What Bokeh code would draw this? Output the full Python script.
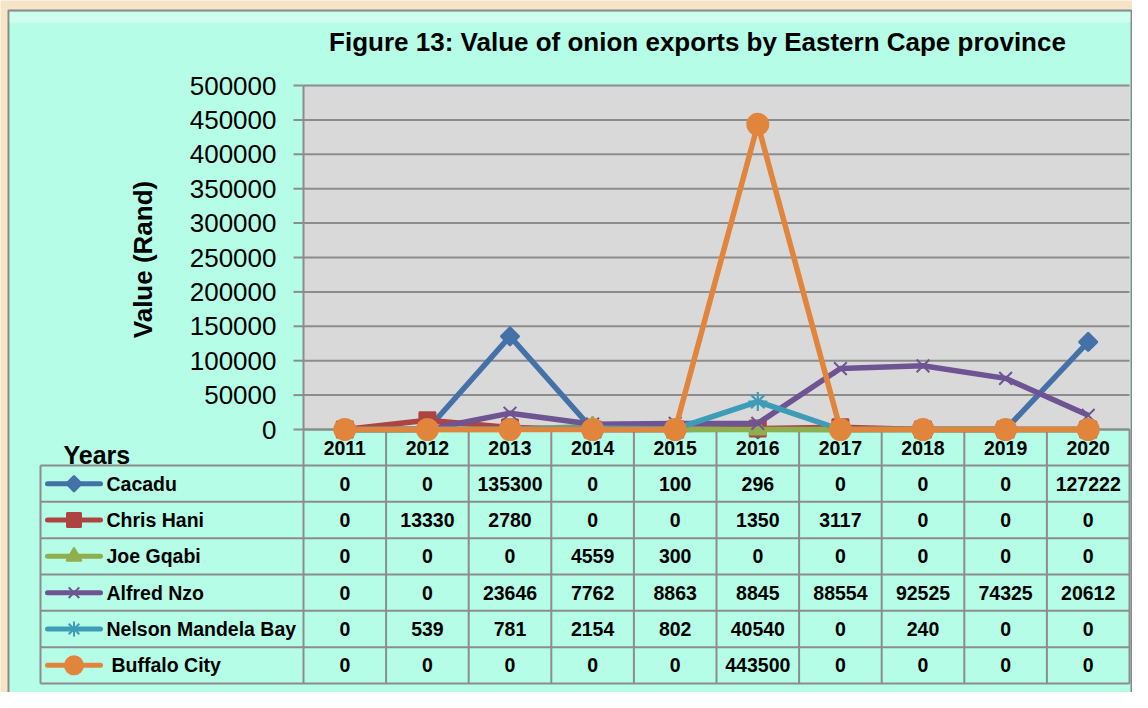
import math
from bokeh.plotting import figure
from bokeh.models import Range1d
from bokeh.core.properties import value
from bokeh.embed import file_html
from bokeh.resources import INLINE

# ---------------- data ----------------
years = ["2011", "2012", "2013", "2014", "2015", "2016", "2017", "2018", "2019", "2020"]
series_names = ["Cacadu", "Chris Hani", "Joe Gqabi", "Alfred Nzo", "Nelson Mandela Bay", "Buffalo City"]
cacadu = [0, 0, 135300, 0, 100, 296, 0, 0, 0, 127222]
chris_hani = [0, 13330, 2780, 0, 0, 1350, 3117, 0, 0, 0]
joe_gqabi = [0, 0, 0, 4559, 300, 0, 0, 0, 0, 0]
alfred_nzo = [0, 0, 23646, 7762, 8863, 8845, 88554, 92525, 74325, 20612]
nelson_mandela_bay = [0, 539, 781, 2154, 802, 40540, 0, 240, 0, 0]
buffalo_city = [0, 0, 0, 0, 0, 443500, 0, 0, 0, 0]
y_ticks = [0, 50000, 100000, 150000, 200000, 250000, 300000, 350000, 400000, 450000, 500000]
title_text = "Figure 13: Value of onion exports by Eastern Cape province"
y_label = "Value (Rand)"
table_corner = "Years"

series_values = [cacadu, chris_hani, joe_gqabi, alfred_nzo, nelson_mandela_bay, buffalo_city]

# ---------------- styles ----------------
colors = ["#4471A8", "#AC4541", "#8FAE4E", "#6E5492", "#3F9CB6", "#E2853C"]
markers = ["square", "square", "triangle", "x", "asterisk", "circle"]
angles = [math.pi / 4, 0, 0, 0, 0, 0]
msizes = [13, 16, 17, 18, 19, 21]
mlw = [2, 2, 2, 2, 2.2, 2]
lwidths = [5.5, 5.5, 5.5, 5.5, 5.5, 5.5]
key_sizes = [11, 14, 15, 15, 15, 18]

FONT = value("Liberation Sans")
CREAM = "#F6E4C6"
AQUA = "#B5FDE7"
PLOT_BG = "#D9D9D9"
GRID = "#8C8C8C"

W, H = 1132, 692
X0, X1 = 0, W
Y0, Y1 = 0, H
PLOT_L = 303.0
DX = 82.6                      # category width
CX0 = PLOT_L + DX / 2          # centre of first category
ZERO_Y, K = 429.0, 344.0 / 500000.0

xr = Range1d((X0 - CX0) / DX, (X1 - CX0) / DX)
yr = Range1d((ZERO_Y - Y1) / K, (ZERO_Y - Y0) / K)

p = figure(width=W, height=H, output_backend="svg", toolbar_location=None,
           x_range=xr, y_range=yr, min_border=0,
           x_axis_location=None, y_axis_location=None)
p.extra_x_ranges = {"px": Range1d(X0, X1)}
p.extra_y_ranges = {"px": Range1d(Y1, Y0)}
p.grid.visible = False
p.outline_line_color = None
p.background_fill_color = CREAM
p.border_fill_color = CREAM

PX = dict(x_range_name="px", y_range_name="px")

n = len(years)
RIGHT = PLOT_L + DX * n

# panel
p.quad(left=8, right=RIGHT + 2, top=10, bottom=703, fill_color=AQUA,
       line_color="#8A8A8A", line_width=2, **PX)
p.quad(left=9, right=RIGHT + 1, top=12, bottom=22, fill_color="white", fill_alpha=0.35,
       line_color=None, **PX)

# title
p.text(x=[697], y=[41], text=[title_text], text_font=FONT, text_font_style="bold",
       text_font_size="26px", text_align="center", text_baseline="middle",
       text_color="black", **PX)

# plot area (data coordinates)
p.quad(left=[-0.5], right=[n - 0.5], bottom=[0], top=[y_ticks[-1]],
       fill_color=PLOT_BG, line_color=None)
p.segment(x0=[-0.5] * len(y_ticks), x1=[n - 0.5] * len(y_ticks), y0=y_ticks, y1=y_ticks,
          line_color=GRID, line_width=2)
# y axis line + ticks
p.segment(x0=[PLOT_L], x1=[PLOT_L], y0=[85], y1=[429], line_color=GRID, line_width=2, **PX)
p.segment(x0=[293] * len(y_ticks), x1=[PLOT_L] * len(y_ticks), y0=y_ticks, y1=y_ticks,
          line_color=GRID, line_width=2, x_range_name="px")
p.text(x=[276] * len(y_ticks), y=y_ticks, text=[str(t) for t in y_ticks], text_font=FONT,
       text_font_size="26px", text_align="right", text_baseline="middle",
       text_color="black", x_range_name="px")
p.text(x=[142], y=[259], text=[y_label], text_font=FONT, text_font_style="bold",
       text_font_size="26px", text_align="center", text_baseline="middle",
       angle=math.pi / 2, text_color="black", **PX)

# ---------------- data table ----------------
HDR_TOP, ROW_TOP, TBL_BOT, TBL_LEFT = 429, 465, 683, 40
nrows = len(series_names)
rh = (TBL_BOT - ROW_TOP) / nrows
row_lines = [ROW_TOP + rh * i for i in range(nrows + 1)]
row_mid = [ROW_TOP + rh * (i + 0.5) for i in range(nrows)]

p.segment(x0=[TBL_LEFT] * len(row_lines), x1=[RIGHT] * len(row_lines), y0=row_lines,
          y1=row_lines, line_color=GRID, line_width=2, **PX)
p.segment(x0=[PLOT_L], x1=[RIGHT], y0=[HDR_TOP], y1=[HDR_TOP], line_color=GRID,
          line_width=2, **PX)
p.segment(x0=[TBL_LEFT], x1=[TBL_LEFT], y0=[ROW_TOP], y1=[TBL_BOT], line_color=GRID,
          line_width=2, **PX)
col_edges = [j - 0.5 for j in range(n + 1)]
p.segment(x0=col_edges, x1=col_edges, y0=[HDR_TOP] * len(col_edges),
          y1=[TBL_BOT] * len(col_edges), line_color=GRID, line_width=2,
          y_range_name="px")

p.text(x=list(range(n)), y=[447] * n, text=years, text_font=FONT, text_font_style="bold",
       text_font_size="19.5px", text_align="center", text_baseline="middle",
       text_color="black", y_range_name="px")
p.text(x=[63], y=[454], text=[table_corner], text_font=FONT, text_font_style="bold",
       text_font_size="25px", text_align="left", text_baseline="middle",
       text_color="black", **PX)

for i, (name, vals) in enumerate(zip(series_names, series_values)):
    ym = row_mid[i]
    p.line(x=[47, 100], y=[ym, ym], line_color=colors[i], line_width=5,
           line_cap="round", **PX)
    p.scatter(x=[73.5], y=[ym], marker=markers[i], size=key_sizes[i], angle=angles[i],
              fill_color=colors[i], line_color=colors[i], line_width=2, **PX)
    p.text(x=[106 if i < nrows - 1 else 111], y=[ym], text=[name], text_font=FONT,
           text_font_style="bold", text_font_size="19.5px", text_align="left",
           text_baseline="middle", text_color="black", **PX)
    p.text(x=list(range(n)), y=[ym] * n, text=[str(v) for v in vals], text_font=FONT,
           text_font_style="bold", text_font_size="19.5px", text_align="center",
           text_baseline="middle", text_color="black", y_range_name="px")

# ---------------- series lines ----------------
for i, vals in enumerate(series_values):
    xs = list(range(n))
    p.line(x=xs, y=vals, line_color=colors[i], line_width=lwidths[i], line_join="round")
    p.scatter(x=xs, y=vals, marker=markers[i], size=msizes[i], angle=angles[i],
              fill_color=colors[i], line_color=colors[i], line_width=mlw[i])

open("out.html", "w").write(file_html(p, INLINE))
